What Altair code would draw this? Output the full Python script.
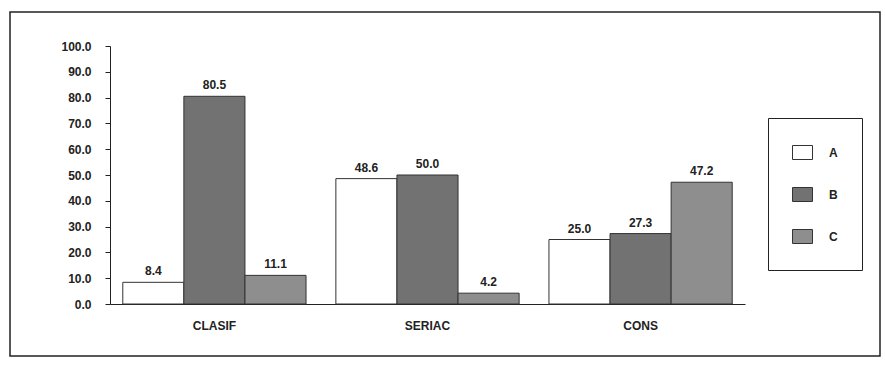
import altair as alt
import pandas as pd

# Percentages per task group and series
categories = ["CLASIF", "SERIAC", "CONS"]
series = ["A", "B", "C"]
values_a = [8.4, 48.6, 25.0]
values_b = [80.5, 50.0, 27.3]
values_c = [11.1, 4.2, 47.2]
y_ticks = [0, 10, 20, 30, 40, 50, 60, 70, 80, 90, 100]
series_colors = ["#ffffff", "#727272", "#8e8e8e"]

rows = []
for i, cat in enumerate(categories):
    for s, vals in zip(series, [values_a, values_b, values_c]):
        rows.append({"grupo": cat, "serie": s, "valor": vals[i]})
df = pd.DataFrame(rows)

FONT = "Liberation Sans"

x_enc = alt.X(
    "grupo:N",
    sort=categories,
    scale=alt.Scale(paddingInner=0.14, paddingOuter=0.06),
    axis=alt.Axis(
        title=None, labelAngle=0, labelPadding=16, tickSize=0,
        labelFontSize=12, labelFontWeight="bold", labelColor="#222",
        domainColor="#222",
    ),
)
y_enc = alt.Y(
    "valor:Q",
    scale=alt.Scale(domain=[0, 100], nice=False),
    axis=alt.Axis(
        title=None, values=y_ticks, format=".1f", tickSize=5,
        labelPadding=14, labelFontSize=12, labelFontWeight="bold",
        labelColor="#222", domainColor="#222", tickColor="#222", grid=False,
        labelOverlap=False, tickCount=11,
    ),
)
x_off = alt.XOffset("serie:N", sort=series, scale=alt.Scale(paddingInner=0))

bars = alt.Chart(df).mark_bar(stroke="#333", strokeWidth=1).encode(
    x=x_enc,
    xOffset=x_off,
    y=y_enc,
    fill=alt.Fill(
        "serie:N",
        sort=series,
        scale=alt.Scale(domain=series, range=series_colors),
        legend=alt.Legend(
            title=None, orient="none", legendX=658, legendY=72,
            direction="vertical", symbolType="M-1,-0.7H1V0.7H-1Z",
            symbolSize=400, symbolStrokeColor="#333", symbolStrokeWidth=1,
            rowPadding=22, labelOffset=16, padding=24,
            strokeColor="#222", labelFontSize=12, labelFontWeight="bold",
            labelColor="#222", labelFont=FONT,
        ),
    ),
)

labels = alt.Chart(df).mark_text(
    dy=-11, font=FONT, fontSize=12, fontWeight="bold", color="#222"
).encode(
    x=x_enc,
    xOffset=x_off,
    y=y_enc,
    text=alt.Text("valor:Q", format=".1f"),
)

frame = alt.Chart(alt.Data(values=[{}])).mark_rect(
    fill="transparent", stroke="#222", strokeWidth=1.5
).encode(
    x=alt.value(-100), x2=alt.value(770),
    y=alt.value(-34), y2=alt.value(310),
)

chart = alt.layer(bars, labels, frame).properties(
    width=635,
    height=258,
    padding={"left": 110, "top": 46, "right": 140, "bottom": 68},
    autosize=alt.AutoSizeParams(type="none"),
    background="white",
).configure_view(strokeWidth=0).configure_axis(
    labelFont=FONT, labelOverlap=False
).configure_legend(labelFont=FONT)

chart.save("out.html", embed_options={"renderer": "svg", "actions": False})
